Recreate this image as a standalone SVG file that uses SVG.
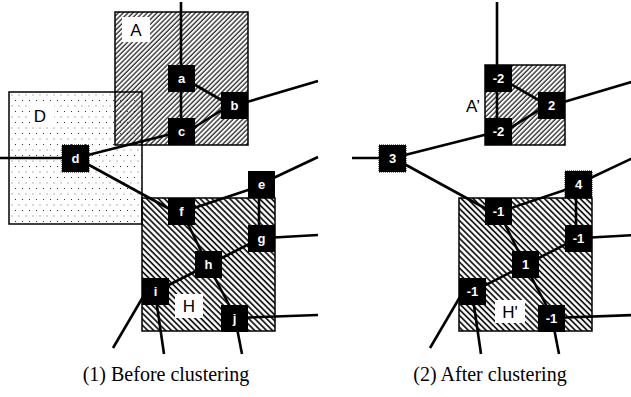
<svg xmlns="http://www.w3.org/2000/svg" width="631" height="397" viewBox="0 0 631 397">
<style>
.bd{fill:none;stroke:#000;stroke-width:1.5}
.n{fill:#000}
.nd{fill:#000;stroke:#000;stroke-width:1;stroke-dasharray:1 1}
.nt{fill:#fff;font-family:"Liberation Sans",Arial,sans-serif;font-weight:bold;font-size:13px;text-anchor:middle}
.lb{fill:#000;font-family:"Liberation Sans",Arial,sans-serif;font-size:17px;text-anchor:middle}
.cap{fill:#000;font-family:"Liberation Serif","Times New Roman",serif;font-size:20px;text-anchor:middle}
#edges line{stroke:#000;stroke-width:2.6;stroke-linecap:butt}
</style>
<defs>
<pattern id="hA" width="3.4" height="3.4" patternUnits="userSpaceOnUse" patternTransform="rotate(45)">
<line x1="1" y1="0" x2="1" y2="3.4" stroke="#000" stroke-width="1.1"/>
</pattern>
<pattern id="hH" width="4.2" height="4.2" patternUnits="userSpaceOnUse" patternTransform="rotate(-45)">
<line x1="1" y1="0" x2="1" y2="4.2" stroke="#000" stroke-width="1.6"/>
</pattern>
<pattern id="dots" width="7" height="11" patternUnits="userSpaceOnUse">
<rect x="1" y="1" width="1" height="1" fill="#333"/>
<rect x="4.5" y="6.5" width="1" height="1" fill="#666"/>
</pattern>
</defs>
<rect width="631" height="397" fill="#fff"/>

<!-- clusters -->
<g id="cluster-D">
<rect x="9" y="92" width="133" height="132" fill="#fff"/>
<rect x="9" y="92" width="133" height="132" fill="url(#dots)"/>
</g>
<g id="cluster-A">
<rect x="115" y="12" width="133" height="133" fill="url(#hA)"/>
<rect x="122" y="17" width="28" height="25" fill="#fff"/>
<text class="lb" x="136" y="36">A</text>
</g>
<g id="cluster-H">
<rect x="142" y="198" width="133" height="133" fill="#fff"/>
<rect x="142" y="198" width="133" height="133" fill="url(#hH)"/>
<rect x="175" y="294" width="28" height="24" fill="#fff"/>
<text class="lb" x="189" y="312">H</text>
</g>
<rect class="bd" x="9" y="92" width="133" height="132"/>
<rect class="bd" x="115" y="12" width="133" height="133"/>
<rect class="bd" x="142" y="198" width="133" height="133"/>
<g id="label-D">
<rect x="32" y="104" width="22" height="23" fill="#fff"/>
<text class="lb" x="40" y="122">D</text>
</g>

<g id="cluster-A2">
<rect x="485" y="65" width="80" height="80" fill="#fff"/>
<rect x="485" y="65" width="80" height="80" fill="url(#hA)"/>
<rect class="bd" x="485" y="65" width="80" height="80"/>
<text class="lb" x="473" y="112">A’</text>
</g>
<g id="cluster-H2">
<rect x="459" y="198" width="133" height="133" fill="#fff"/>
<rect x="459" y="198" width="133" height="133" fill="url(#hH)"/>
<rect class="bd" x="459" y="198" width="133" height="133"/>
<rect x="495" y="300" width="30" height="23" fill="#fff"/>
<text class="lb" x="510" y="318">H'</text>
</g>

<!-- connectors -->
<g id="edges">
<line x1="181" y1="2" x2="181" y2="132"/>
<line x1="190" y1="82" x2="230" y2="105"/>
<line x1="190" y1="130" x2="230" y2="105"/>
<line x1="240" y1="104" x2="318" y2="81"/>
<line x1="0" y1="158" x2="70" y2="158"/>
<line x1="80" y1="157" x2="175" y2="133"/>
<line x1="80" y1="160" x2="175" y2="212"/>
<line x1="265" y1="182" x2="318" y2="157"/>
<line x1="182" y1="212" x2="260" y2="186"/>
<line x1="259" y1="185" x2="259" y2="238"/>
<line x1="265" y1="238" x2="318" y2="235"/>
<line x1="182" y1="212" x2="208" y2="265"/>
<line x1="261" y1="238" x2="208" y2="265"/>
<line x1="208" y1="265" x2="155" y2="292"/>
<line x1="208" y1="265" x2="236" y2="318"/>
<line x1="150" y1="285" x2="113" y2="348"/>
<line x1="155" y1="292" x2="164" y2="354"/>
<line x1="235" y1="318" x2="242" y2="354"/>
<line x1="235" y1="318" x2="318" y2="315"/>

<line x1="497" y1="2" x2="497" y2="132"/>
<line x1="507" y1="82" x2="547" y2="105"/>
<line x1="507" y1="130" x2="547" y2="105"/>
<line x1="557" y1="104" x2="635" y2="81"/>
<line x1="352" y1="158" x2="387" y2="158"/>
<line x1="397" y1="157" x2="492" y2="133"/>
<line x1="397" y1="160" x2="492" y2="212"/>
<line x1="582" y1="182" x2="635" y2="157"/>
<line x1="499" y1="212" x2="577" y2="186"/>
<line x1="576" y1="185" x2="576" y2="238"/>
<line x1="582" y1="238" x2="635" y2="235"/>
<line x1="499" y1="212" x2="525" y2="265"/>
<line x1="578" y1="238" x2="525" y2="265"/>
<line x1="525" y1="265" x2="472" y2="292"/>
<line x1="525" y1="265" x2="553" y2="318"/>
<line x1="467" y1="285" x2="430" y2="348"/>
<line x1="472" y1="292" x2="481" y2="354"/>
<line x1="552" y1="318" x2="559" y2="354"/>
<line x1="552" y1="318" x2="635" y2="315"/>
</g>

<!-- nodes left -->
<g id="node-a"><rect class="n" x="168" y="65" width="27" height="27"/><text class="nt" x="181.5" y="83">a</text></g>
<g id="node-b"><rect class="n" x="221" y="92" width="27" height="27"/><text class="nt" x="234.5" y="110">b</text></g>
<g id="node-c"><rect class="n" x="168" y="118" width="27" height="27"/><text class="nt" x="181.5" y="136">c</text></g>
<g id="node-d"><rect class="nd" x="62" y="145" width="27" height="27"/><text class="nt" x="75.5" y="163">d</text></g>
<g id="node-e"><rect class="n" x="248" y="171" width="27" height="27"/><text class="nt" x="261.5" y="189">e</text></g>
<g id="node-f"><rect class="n" x="168" y="198" width="27" height="27"/><text class="nt" x="181.5" y="216">f</text></g>
<g id="node-g"><rect class="n" x="248" y="225" width="27" height="27"/><text class="nt" x="261.5" y="243">g</text></g>
<g id="node-h"><rect class="n" x="195" y="251" width="27" height="27"/><text class="nt" x="208.5" y="269">h</text></g>
<g id="node-i"><rect class="n" x="142" y="278" width="27" height="27"/><text class="nt" x="155.5" y="296">i</text></g>
<g id="node-j"><rect class="n" x="221" y="305" width="27" height="27"/><text class="nt" x="234.5" y="323">j</text></g>

<!-- nodes right -->
<g id="node-a2"><rect class="n" x="485" y="65" width="27" height="27"/><text class="nt" x="498.5" y="83">-2</text></g>
<g id="node-b2"><rect class="n" x="538" y="92" width="27" height="27"/><text class="nt" x="551.5" y="110">2</text></g>
<g id="node-c2"><rect class="n" x="485" y="118" width="27" height="27"/><text class="nt" x="498.5" y="136">-2</text></g>
<g id="node-d2"><rect class="nd" x="379" y="145" width="27" height="27"/><text class="nt" x="392.5" y="163">3</text></g>
<g id="node-e2"><rect class="nd" x="565" y="171" width="27" height="27"/><text class="nt" x="578.5" y="189">4</text></g>
<g id="node-f2"><rect class="n" x="485" y="198" width="27" height="27"/><text class="nt" x="498.5" y="216">-1</text></g>
<g id="node-g2"><rect class="n" x="565" y="225" width="27" height="27"/><text class="nt" x="578.5" y="243">-1</text></g>
<g id="node-h2"><rect class="n" x="512" y="251" width="27" height="27"/><text class="nt" x="525.5" y="269">1</text></g>
<g id="node-i2"><rect class="n" x="459" y="278" width="27" height="27"/><text class="nt" x="472.5" y="296">-1</text></g>
<g id="node-j2"><rect class="n" x="538" y="305" width="27" height="27"/><text class="nt" x="551.5" y="323">-1</text></g>

<text class="cap" x="166" y="381">(1) Before clustering</text>
<text class="cap" x="490" y="381">(2) After clustering</text>
</svg>
